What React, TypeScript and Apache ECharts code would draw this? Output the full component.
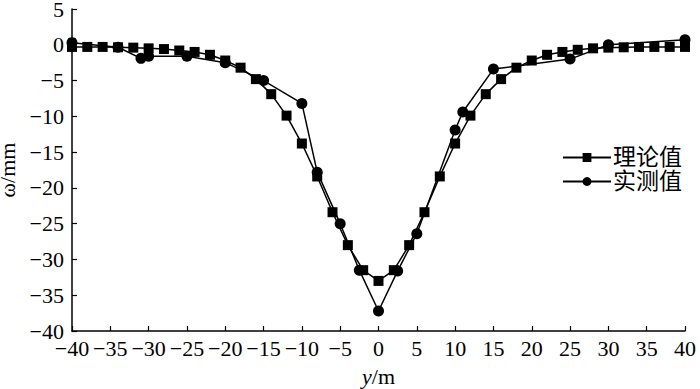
import React, { useEffect, useRef } from "react";
import * as echarts from "echarts";

const theoryX = [-40, -38, -36, -34, -32, -30, -28, -26, -24, -22, -20, -18, -16, -14, -12, -10, -8, -6, -4, -2, 0, 2, 4, 6, 8, 10, 12, 14, 16, 18, 20, 22, 24, 26, 28, 30, 32, 34, 36, 38, 40];
const theoryY = [-0.3, -0.3, -0.3, -0.35, -0.4, -0.5, -0.6, -0.8, -1.0, -1.4, -2.2, -3.2, -4.8, -6.9, -9.9, -13.8, -18.4, -23.4, -28.0, -31.5, -33.0, -31.5, -28.0, -23.4, -18.4, -13.8, -9.9, -6.9, -4.8, -3.2, -2.2, -1.4, -1.0, -0.7, -0.5, -0.4, -0.35, -0.3, -0.3, -0.3, -0.3];
const measX = [-40, -34, -31, -30, -25, -20, -15, -10, -8, -5, -2.5, 0, 2.5, 5, 10, 11, 15, 25, 30, 40];
const measY = [0.3, -0.35, -1.9, -1.6, -1.6, -2.5, -5.0, -8.2, -17.8, -25.0, -31.5, -37.2, -31.6, -26.4, -11.9, -9.4, -3.4, -2.0, 0.0, 0.7];
const seriesNames = ["理论值", "实测值"];

const FONT = "'Liberation Serif', 'Noto Sans CJK SC', serif";

export default function App() {
  const ref = useRef<HTMLDivElement>(null);
  useEffect(() => {
    if (!ref.current) return;
    const chart = echarts.init(ref.current, null, { renderer: "svg" });
    const fmt = (v: number) => String(v).replace("-", "\u2212");
    chart.setOption({
      animation: false,
      backgroundColor: "#fff",
      textStyle: { fontFamily: FONT, color: "#000" },
      grid: { left: 72, right: 15, top: 9, bottom: 58, outerBoundsMode: "none", containLabel: false },
      legend: {
        orient: "vertical",
        left: 557,
        top: 141,
        itemWidth: 48,
        itemHeight: 11,
        itemGap: 1,
        textStyle: { fontFamily: FONT, fontSize: 23, color: "#000", padding: [0, 0, 0, -3] },
        data: seriesNames,
      },
      xAxis: {
        type: "value",
        min: -40,
        max: 40,
        interval: 5,
        axisLine: { onZero: false, lineStyle: { color: "#000", width: 1.5 } },
        axisTick: { inside: true, length: 5, lineStyle: { color: "#000", width: 1.2 } },
        axisLabel: { formatter: fmt, fontSize: 22, color: "#000", margin: 6, fontFamily: FONT },
        splitLine: { show: false },
        name: "{i|y}/m",
        nameLocation: "middle",
        nameGap: 34,
        nameTextStyle: {
          fontSize: 22,
          color: "#000",
          fontFamily: FONT,
          rich: { i: { fontStyle: "italic", fontSize: 22, fontFamily: FONT, color: "#000" } },
        },
      },
      yAxis: {
        type: "value",
        min: -40,
        max: 5,
        interval: 5,
        axisLine: { show: true, onZero: false, lineStyle: { color: "#000", width: 1.5 } },
        axisTick: { show: true, inside: true, length: 5, lineStyle: { color: "#000", width: 1.2 } },
        axisLabel: { formatter: fmt, fontSize: 22, lineHeight: 14, color: "#000", margin: 8, fontFamily: FONT },
        splitLine: { show: false },
        name: "ω/mm",
        nameLocation: "middle",
        nameGap: 42,
        nameTextStyle: { fontSize: 22, lineHeight: 20, color: "#000", fontFamily: FONT },
      },
      series: [
        {
          name: seriesNames[0],
          type: "line",
          z: 3,
          symbol: "rect",
          symbolSize: 10,
          data: theoryX.map((x, i) => [x, theoryY[i]]),
          lineStyle: { color: "#000", width: 1.5 },
          itemStyle: { color: "#000" },
        },
        {
          name: seriesNames[1],
          type: "line",
          z: 2,
          symbol: "circle",
          symbolSize: 11,
          data: measX.map((x, i) => [x, measY[i]]),
          lineStyle: { color: "#000", width: 1.5 },
          itemStyle: { color: "#000" },
        },
      ],
    });
    return () => chart.dispose();
  }, []);
  return <div ref={ref} style={{ width: 700, height: 389, position: "absolute", left: 0, top: 0 }} />;
}
